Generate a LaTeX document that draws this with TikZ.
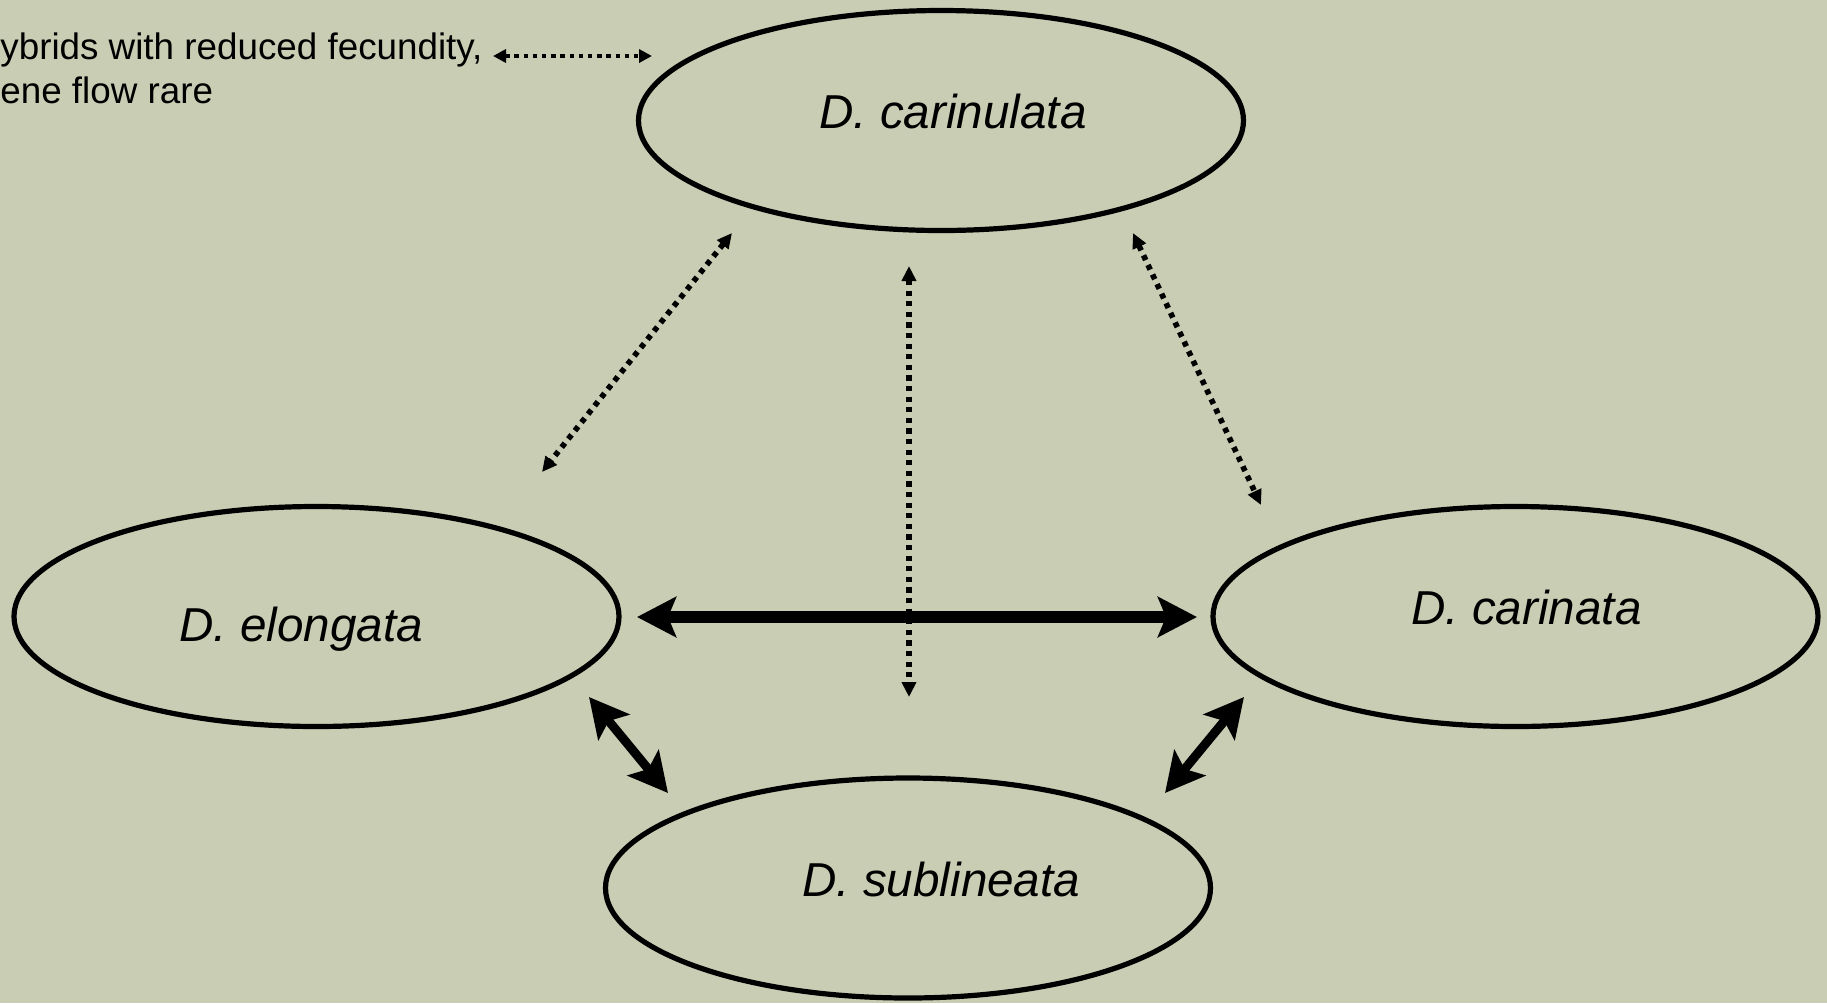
\documentclass[tikz,border=0pt]{standalone}
\usepackage{fontspec}
\setmainfont{Liberation Sans}
\usetikzlibrary{arrows.meta,shapes.geometric}
\definecolor{sage}{RGB}{201,205,180}
\begin{document}
\begin{tikzpicture}[x=0.5pt,y=-0.5pt,
  species/.style={draw=black, line width=2.6pt, ellipse, inner sep=0pt,
    minimum width=302.5pt, minimum height=110pt},
  spname/.style={anchor=base west, inner sep=0pt,
    font=\fontsize{23.8}{28}\selectfont\itshape},
  note/.style={anchor=base west, inner sep=0pt,
    font=\fontsize{18.4}{22}\selectfont},
  bigtip/.tip={Stealth[length=19.5pt,width=20pt,inset=4pt]},
  smalltip/.tip={Triangle[length=7.5pt,width=7pt]},
  strong/.style={line width=6pt, {bigtip}-{bigtip}},
  medium/.style={line width=4.5pt, {bigtip}-{bigtip}},
  weak/.style={line width=2.8pt, dash pattern=on 2.6pt off 2.7pt,
    {smalltip}-{smalltip}},
  weakkey/.style={line width=2.3pt, dash pattern=on 2.2pt off 2.4pt,
    {Triangle[length=6.5pt,width=6.5pt]}-{Triangle[length=6.5pt,width=6.5pt]}},
]
% background and frame
\fill[sage] (0,0) rectangle (1827,1003);
\useasboundingbox (0,0) rectangle (1827,1003);

% species
\node[species] (carinulata) at (941,120.5) {};
\node[species] (elongata)   at (316.5,616.5) {};
\node[species] (carinata)   at (1515.5,616.5) {};
\node[species] (sublineata) at (908,888) {};

\node[spname] (carinulataname) at (819,128) {D. carinulata};
\node[spname] (elongataname)   at (179,641) {D. elongata};
\node[spname] (carinataname)   at (1411,624) {D. carinata};
\node[spname] (sublineataname) at (802,896) {D. sublineata};

% key
\node[note] (keyA) at (0,59) {ybrids with reduced fecundity,};
\node[note] (keyB) at (0,103) {ene flow rare};
\coordinate (keyL) at (493,56);
\coordinate (keyR) at (652,56);
\draw[weakkey] (keyL) -- (keyR);

% connector end points
\coordinate (cuL) at (732,233);
\coordinate (elU) at (542,472);
\coordinate (cuM) at (909,266);
\coordinate (suM) at (909,697);
\coordinate (cuR) at (1133,233);
\coordinate (caU) at (1261,505);
\coordinate (elR) at (637,617);
\coordinate (caL) at (1197,617);
\coordinate (elD) at (589,697);
\coordinate (suL) at (668,793);
\coordinate (suR) at (1165,793);
\coordinate (caD) at (1244,697);

% strong gene flow
\draw[strong] (elR) -- (caL);
\draw[medium] (elD) -- (suL);
\draw[medium] (suR) -- (caD);

% rare gene flow
\draw[weak] (cuL) -- (elU);
\draw[weak] (cuM) -- (suM);
\draw[weak] (cuR) -- (caU);
\end{tikzpicture}
\end{document}
